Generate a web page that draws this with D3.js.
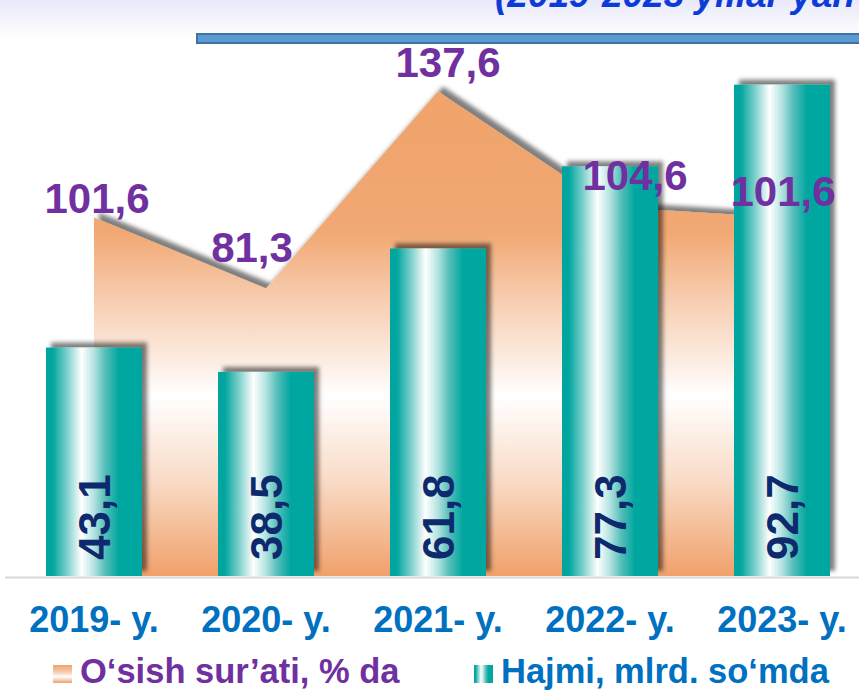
<!DOCTYPE html>
<html>
<head>
<meta charset="utf-8">
<script src="https://cdn.jsdelivr.net/npm/d3@7"></script>
<style>
  body { margin: 0; background: #fff; overflow: hidden; }
  text { font-family: "Liberation Sans", Arial, sans-serif; font-weight: bold; }
</style>
</head>
<body>
<div id="chart"></div>
<script>
// data
const years = ['2019- y.', '2020- y.', '2021- y.', '2022- y.', '2023- y.'];
const volume = [43.1, 38.5, 61.8, 77.3, 92.7];      // Hajmi, mlrd. so'mda
const growth = [101.6, 81.3, 137.6, 104.6, 101.6];  // O'sish sur'ati, % da
const legendNames = ['O‘sish sur’ati, % da', 'Hajmi, mlrd. so‘mda'];
const titleText = '(2019-2023 yillar yanvar-dekabr)';

// label nudges for growth values (px, like the hand-placed labels in the original)
const growthNudge = [[3, -4], [-14, -26], [10, -14], [25, -17], [1, -11]];

const w = 859;
const h = 692;
const base = 576;

const fmt = v => d3.format('.1f')(v).replace('.', ',');

const svg = d3.select('#chart').append('svg').attr('width', w).attr('height', h);
const defs = svg.append('defs');

const xScale = d3.scaleBand().domain(years).range([8, 868]).paddingInner(0.442).paddingOuter(0.221);
const yBar = d3.scaleLinear().domain([0, 100]).range([base, 46]);
const yArea = d3.scaleLinear().domain([0, 160]).range([573, 13]);
const cx = d => xScale(d) + xScale.bandwidth() / 2;

// gradients
const topGrad = defs.append('linearGradient').attr('id', 'topBg').attr('x1', 0).attr('y1', 0).attr('x2', 0).attr('y2', 1);
topGrad.append('stop').attr('offset', 0).attr('stop-color', '#e9e9fa');
topGrad.append('stop').attr('offset', 1).attr('stop-color', '#ffffff');

const teal = defs.append('linearGradient').attr('id', 'teal').attr('x1', 0).attr('y1', 0).attr('x2', 1).attr('y2', 0);
[[0, '#00a59f'], [0.07, '#00a59f'], [0.24, '#8fd6d2'], [0.37, '#ffffff'], [0.5, '#b3e3e0'], [0.62, '#52bdb8'], [0.76, '#00a6a0'], [1, '#00a6a0']]
  .forEach(s => teal.append('stop').attr('offset', s[0]).attr('stop-color', s[1]));

const orange = defs.append('linearGradient').attr('id', 'orange')
  .attr('gradientUnits', 'userSpaceOnUse')
  .attr('x1', 0).attr('x2', 0).attr('y1', yArea(d3.max(growth))).attr('y2', base);
[[0, '#f0a36b'], [0.29, '#f1a872'], [0.43, '#f7cdb0'], [0.63, '#ffffff'], [0.8, '#f9dcc8'], [1, '#f0a06a']]
  .forEach(s => orange.append('stop').attr('offset', s[0]).attr('stop-color', s[1]));

const orangeKey = defs.append('linearGradient').attr('id', 'orangeKey').attr('x1', 0).attr('y1', 0).attr('x2', 0).attr('y2', 1);
[[0, '#f0a36b'], [0.35, '#f6c6a4'], [0.65, '#ffffff'], [1, '#f0a06a']]
  .forEach(s => orangeKey.append('stop').attr('offset', s[0]).attr('stop-color', s[1]));

const shadow = defs.append('filter').attr('id', 'shadow')
  .attr('x', '-20%').attr('y', '-20%').attr('width', '140%').attr('height', '140%');
shadow.append('feDropShadow').attr('dx', 5).attr('dy', -5).attr('stdDeviation', 2)
  .attr('flood-color', '#000').attr('flood-opacity', 0.5);

// header strip
svg.append('rect').attr('x', 0).attr('y', 0).attr('width', w).attr('height', 38).attr('fill', 'url(#topBg)');
svg.append('text').attr('x', 495).attr('y', 7).attr('font-size', 37).attr('font-style', 'italic')
  .attr('fill', '#0d3bd9').text(titleText);
svg.append('rect').attr('x', 197).attr('y', 34).attr('width', 680).attr('height', 9)
  .attr('fill', '#5b9bd5').attr('stroke', '#41719c').attr('stroke-width', 2);

// baseline
svg.append('line').attr('x1', 5).attr('x2', w).attr('y1', base + 1.5).attr('y2', base + 1.5)
  .attr('stroke', '#d9d9d9').attr('stroke-width', 2);

// growth area
const areaData = years.map((y, i) => ({ year: y, v: growth[i] }));
const area = d3.area().x(d => cx(d.year)).y0(base).y1(d => yArea(d.v));
svg.append('path').datum(areaData).attr('d', area).attr('fill', 'url(#orange)').attr('filter', 'url(#shadow)');

// volume bars
const barData = years.map((y, i) => ({ year: y, v: volume[i] }));
svg.selectAll('rect.bar').data(barData).enter().append('rect')
  .attr('class', 'bar')
  .attr('x', d => xScale(d.year))
  .attr('y', d => yBar(d.v))
  .attr('width', xScale.bandwidth())
  .attr('height', d => base - yBar(d.v))
  .attr('fill', 'url(#teal)')
  .attr('filter', 'url(#shadow)');

// volume labels, rotated
svg.selectAll('text.vol').data(barData).enter().append('text')
  .attr('class', 'vol')
  .attr('transform', d => 'translate(' + (cx(d.year) + 16) + ',' + (base - 16) + ') rotate(-90)')
  .attr('font-size', 44).attr('fill', '#0d2a6e')
  .text(d => fmt(d.v));

// growth labels
svg.selectAll('text.gr').data(areaData).enter().append('text')
  .attr('class', 'gr')
  .attr('x', (d, i) => cx(d.year) + growthNudge[i][0])
  .attr('y', (d, i) => yArea(d.v) + growthNudge[i][1])
  .attr('text-anchor', 'middle').attr('font-size', 42).attr('fill', '#7030a0')
  .text(d => fmt(d.v));

// x axis labels
const xAxis = d3.axisBottom(xScale).tickSize(0).tickPadding(0);
const gx = svg.append('g').attr('transform', 'translate(0,' + 632 + ')').call(xAxis);
gx.select('.domain').remove();
gx.selectAll('text').attr('dy', 0).attr('font-size', 36).attr('fill', '#0070c0')
  .attr('font-family', '"Liberation Sans", Arial, sans-serif');

// legend
const legend = [
  { name: legendNames[0], fill: 'url(#orangeKey)', color: '#7030a0', x: 53 },
  { name: legendNames[1], fill: 'url(#teal)', color: '#0070c0', x: 474 }
];
const lg = svg.selectAll('g.leg').data(legend).enter().append('g').attr('class', 'leg')
  .attr('transform', d => 'translate(' + d.x + ',665)');
lg.append('rect').attr('width', 19).attr('height', 18).attr('fill', d => d.fill);
lg.append('text').attr('x', 27).attr('y', 18).attr('font-size', 34.5).attr('fill', d => d.color).text(d => d.name);
</script>
</body>
</html>
